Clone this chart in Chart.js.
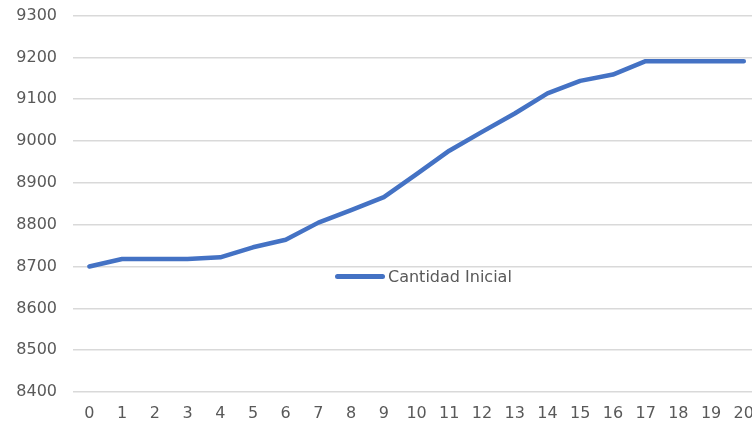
<!DOCTYPE html>
<html>
<head>
<meta charset="utf-8">
<script src="https://cdn.jsdelivr.net/npm/chart.js@4"></script>
<style>
  html, body { margin: 0; padding: 0; background: #fff; overflow: hidden; }
  #wrap { position: relative; width: 752px; height: 429px; overflow: hidden; }
  #box { position: absolute; left: 0; top: -10px; width: 766px; height: 440px; }
  #legend { position: absolute; left: 335px; top: 265px; height: 22px; display: flex; align-items: center;
            font-family: "DejaVu Sans", sans-serif; font-size: 16px; color: #595959; }
  #legend .swatch { width: 50px; height: 5px; background: #4472C4; border-radius: 3px; margin-right: 3px; }
</style>
</head>
<body>
<div id="wrap">
  <div id="box"><canvas id="chart"></canvas></div>
  <div id="legend"><span class="swatch"></span><span>Cantidad Inicial</span></div>
</div>
<script>
const labels = ['0', '1', '2', '3', '4', '5', '6', '7', '8', '9', '10', '11', '12', '13', '14', '15', '16', '17', '18', '19', '20'];
const cantidadInicial = [8700, 8718, 8718, 8718, 8722, 8746, 8764, 8805, 8835, 8866, 8921, 8977, 9022, 9066, 9114, 9144, 9159, 9191, 9191, 9191, 9191];
const yMin = 8400;
const yMax = 9300;
const yStep = 100;

const textColor = '#595959';
const font = { family: 'DejaVu Sans', size: 16 };

new Chart(document.getElementById('chart'), {
    type: 'line',
    data: {
        labels: labels,
        datasets: [{
            label: 'Cantidad Inicial',
            data: cantidadInicial,
            borderColor: '#4472C4',
            borderWidth: 4.5,
            borderCapStyle: 'round',
            borderJoinStyle: 'round',
            pointRadius: 0,
            tension: 0,
            fill: false
        }]
    },
    options: {
        responsive: true,
        maintainAspectRatio: false,
        animation: false,
        layout: { padding: { top: 5, right: 1, left: 0, bottom: 0 } },
        plugins: {
            legend: { display: false },
            tooltip: { enabled: false }
        },
        scales: {
            x: {
                offset: true,
                grid: { display: false, drawTicks: false },
                border: { display: false },
                ticks: { color: textColor, font: font, padding: 12, maxRotation: 0, autoSkip: false },
                afterFit: scale => { scale.height = 38; }
            },
            y: {
                min: yMin,
                max: yMax,
                grid: { color: '#d9d9d9', lineWidth: 1.5, drawTicks: false },
                border: { display: false },
                ticks: { stepSize: yStep, color: textColor, font: font, padding: 16, callback: v => String(v) },
                afterFit: scale => { scale.width = 73; }
            }
        }
    }
});
</script>
</body>
</html>
